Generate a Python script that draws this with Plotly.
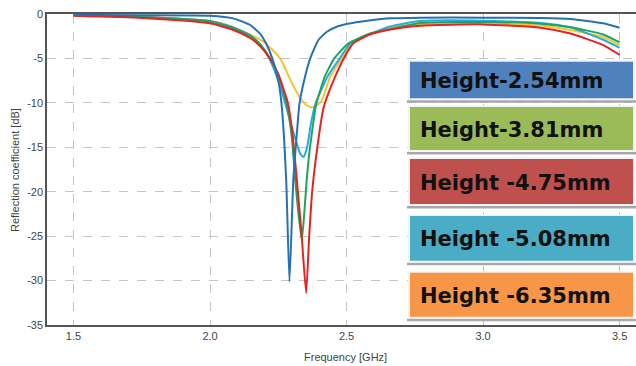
import plotly.graph_objects as go

# ---- data ----
freq_darkblue = [1.5, 1.75, 2.0, 2.085, 2.147, 2.183, 2.205, 2.228, 2.25, 2.263, 2.279, 2.291,
                 2.305, 2.316, 2.328, 2.348, 2.367, 2.397, 2.428, 2.464, 2.5, 2.55, 2.66, 2.77,
                 3.0, 3.21, 3.32, 3.44, 3.5]
db_darkblue = [-0.1, -0.13, -0.19, -0.49, -1.24, -2.2, -3.3, -5.0, -7.5, -10.5, -18.7, -30.1,
               -18.7, -14.2, -10.0, -7.07, -5.0, -2.93, -2.0, -1.43, -1.13, -0.87, -0.49, -0.41,
               -0.41, -0.45, -0.56, -1.05, -1.54]

freq_red = [1.5, 1.75, 2.0, 2.085, 2.147, 2.183, 2.22, 2.25, 2.285, 2.302, 2.318, 2.336, 2.352,
            2.363, 2.374, 2.393, 2.414, 2.421, 2.458, 2.49, 2.525, 2.58, 2.65, 2.77, 3.0, 3.21,
            3.32, 3.44, 3.5]
db_red = [-0.2, -0.45, -1.05, -1.8, -2.7, -3.6, -5.0, -6.8, -10.0, -13.5, -18.7, -25.1, -31.4,
          -25.1, -20.0, -15.0, -10.8, -10.0, -7.07, -5.0, -3.3, -2.37, -1.8, -1.32, -1.17, -1.54,
          -2.2, -3.5, -4.6]

freq_green = [1.5, 1.75, 2.0, 2.085, 2.147, 2.183, 2.22, 2.25, 2.28, 2.3, 2.312, 2.325, 2.336,
              2.345, 2.354, 2.366, 2.385, 2.39, 2.42, 2.455, 2.507, 2.586, 2.66, 2.77, 3.0,
              3.21, 3.32, 3.44, 3.5]
db_green = [-0.15, -0.35, -0.85, -1.6, -2.5, -3.4, -5.0, -6.8, -10.0, -14.0, -18.7, -22.8, -25.4,
            -22.5, -18.7, -15.0, -10.8, -10.0, -7.07, -5.0, -3.3, -2.2, -1.7, -1.0, -0.9,
            -1.1, -1.5, -2.3, -3.2]

freq_cyan = [1.5, 1.75, 2.0, 2.085, 2.147, 2.183, 2.22, 2.25, 2.275, 2.291, 2.318, 2.33, 2.342,
             2.35, 2.358, 2.368, 2.38, 2.387, 2.43, 2.475, 2.515, 2.59, 2.66, 2.77, 3.0, 3.21,
             3.32, 3.44, 3.5]
db_cyan = [-0.15, -0.35, -0.8, -1.5, -2.4, -3.4, -5.2, -7.5, -10.0, -11.8, -14.6, -15.7, -16.1,
           -15.6, -14.6, -12.6, -10.8, -10.0, -7.07, -5.0, -3.3, -2.2, -1.4, -0.8, -0.75, -1.0,
           -1.5, -2.9, -3.8]

freq_yellow = [1.5, 1.75, 2.0, 2.085, 2.147, 2.2, 2.257, 2.3, 2.336, 2.355, 2.373, 2.39, 2.41,
               2.44, 2.483, 2.52, 2.59, 2.67, 2.77, 3.0, 3.21, 3.32, 3.44, 3.5]
db_yellow = [-0.15, -0.3, -0.8, -1.5, -2.3, -3.2, -5.0, -7.8, -9.7, -10.3, -10.5, -10.3, -9.7,
             -7.07, -5.0, -3.3, -2.2, -1.5, -1.15, -1.05, -1.3, -1.8, -2.6, -3.5]

x_ticks = [1.5, 2.0, 2.5, 3.0, 3.5]
x_tick_labels = ["1.5", "2.0", "2.5", "3.0", "3.5"]
y_ticks = [0, -5, -10, -15, -20, -25, -30, -35]
y_tick_labels = ["0", "-5", "-10", "-15", "-20", "-25", "-30", "-35"]

legend_labels = ["Height-2.54mm", "Height-3.81mm", "Height -4.75mm",
                 "Height -5.08mm", "Height -6.35mm"]

# ---- styles ----
legend_colors = ["#4F81BD", "#9BBB59", "#C0504D", "#4BACC6", "#F79646"]
series = [
    (freq_yellow, db_yellow, "#F4C430"),
    (freq_cyan, db_cyan, "#2AA9DE"),
    (freq_green, db_green, "#1FA45E"),
    (freq_red, db_red, "#E52420"),
    (freq_darkblue, db_darkblue, "#2472B3"),
]

W, H = 636, 366
ML, MR, MT, MB = 47, 0, 14, 41
PW, PH = W - ML - MR, H - MT - MB


def px_x(px):
    return (px - ML) / PW


def px_y(py):
    return (H - MB - py) / PH


fig = go.Figure()
for fx, fy, col in series:
    fig.add_trace(go.Scatter(x=fx, y=fy, mode="lines",
                             line=dict(color=col, width=2, shape="spline", smoothing=0.5),
                             showlegend=False, hoverinfo="skip"))

fig.update_layout(
    width=W, height=H,
    margin=dict(l=ML, r=MR, t=MT, b=MB),
    paper_bgcolor="white", plot_bgcolor="white",
    font=dict(family="Liberation Sans, Arial, sans-serif", size=11, color="#333333"),
    xaxis=dict(range=[1.403, 3.56], tickvals=x_ticks, ticktext=x_tick_labels,
               showgrid=True, gridcolor="#c4c4c4", griddash="dash", gridwidth=1,
               showline=True, linecolor="#555555", linewidth=1.5, mirror=True,
               zeroline=False, ticks="", tickfont=dict(size=11, color="#444444")),
    yaxis=dict(range=[-35, 0], tickvals=y_ticks, ticktext=y_tick_labels,
               showgrid=True, gridcolor="#c4c4c4", griddash="dash", gridwidth=1,
               showline=True, linecolor="#555555", linewidth=1.5, mirror=False,
               zeroline=False, ticks="", tickfont=dict(size=11, color="#444444")),
)

annotations = [
    dict(text="Frequency [GHz]", x=px_x(345), y=px_y(357), xref="paper", yref="paper",
         showarrow=False, xanchor="center", yanchor="middle",
         font=dict(size=11, color="#444444")),
    dict(text="Reflection coefficient [dB]", x=px_x(15), y=px_y(170), xref="paper",
         yref="paper", showarrow=False, textangle=-90, xanchor="center", yanchor="middle",
         font=dict(size=11, color="#444444")),
]

shapes = []
box_tops = [61.7, 107, 159, 216, 272.7]
box_bottoms = [98.3, 150, 204, 260.7, 316.7]
bx0, bx1 = 410, 633
for lab, col, t, b in zip(legend_labels, legend_colors, box_tops, box_bottoms):
    # shadow line under box
    shapes.append(dict(type="rect", xref="paper", yref="paper",
                       x0=px_x(bx0 - 3), x1=px_x(636), y0=px_y(b + 4.5), y1=px_y(b + 2),
                       fillcolor="#a8a8a8", line=dict(width=0), layer="above"))
    shapes.append(dict(type="rect", xref="paper", yref="paper",
                       x0=px_x(bx0 - 2), x1=px_x(bx1 + 2), y0=px_y(b + 1.5), y1=px_y(t - 1.5),
                       fillcolor="#f2f2f2", line=dict(width=0), layer="above"))
    shapes.append(dict(type="rect", xref="paper", yref="paper",
                       x0=px_x(bx0), x1=px_x(bx1), y0=px_y(b), y1=px_y(t),
                       fillcolor=col, line=dict(width=0), layer="above"))
    annotations.append(dict(text=lab, x=px_x(418), y=px_y((t + b) / 2 + 1), xref="paper",
                            yref="paper", showarrow=False, xanchor="left", yanchor="middle",
                            font=dict(family="DejaVu Sans", size=21, color="#111111",
                                      weight="bold")))

fig.update_layout(shapes=shapes, annotations=annotations)
fig.write_html("out.html")
